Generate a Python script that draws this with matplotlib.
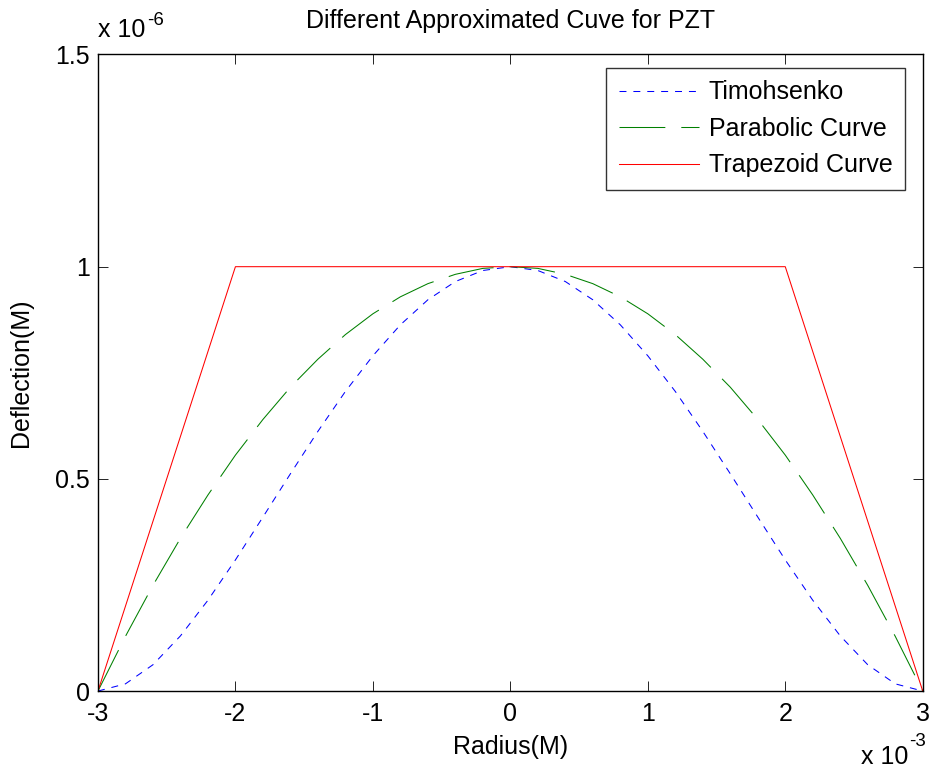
import matplotlib
matplotlib.use("Agg")
import matplotlib.pyplot as plt

plt.rcParams['font.family'] = ['Liberation Sans', 'DejaVu Sans']
plt.rcParams['lines.scale_dashes'] = False

# radius in units of 1e-3 m, deflection in units of 1e-6 m
radius = [-3.0, -2.8, -2.6, -2.4, -2.2, -2.0, -1.8, -1.6, -1.4, -1.2, -1.0,
          -0.8, -0.6, -0.4, -0.2, 0.0, 0.2, 0.4, 0.6, 0.8, 1.0, 1.2, 1.4,
          1.6, 1.8, 2.0, 2.2, 2.4, 2.6, 2.8, 3.0]
timoshenko = [0.0, 0.017, 0.062, 0.130, 0.214, 0.309, 0.410, 0.512, 0.612,
              0.706, 0.790, 0.863, 0.922, 0.965, 0.991, 1.0, 0.991, 0.965,
              0.922, 0.863, 0.790, 0.706, 0.612, 0.512, 0.410, 0.309, 0.214,
              0.130, 0.062, 0.017, 0.0]
parabolic = [0.0, 0.129, 0.249, 0.360, 0.462, 0.556, 0.640, 0.716, 0.782,
             0.840, 0.889, 0.929, 0.960, 0.982, 0.996, 1.0, 0.996, 0.982,
             0.960, 0.929, 0.889, 0.840, 0.782, 0.716, 0.640, 0.556, 0.462,
             0.360, 0.249, 0.129, 0.0]
trapezoid = [0.0, 0.2, 0.4, 0.6, 0.8, 1.0, 1.0, 1.0, 1.0, 1.0, 1.0, 1.0,
             1.0, 1.0, 1.0, 1.0, 1.0, 1.0, 1.0, 1.0, 1.0, 1.0, 1.0, 1.0, 1.0,
             1.0, 0.8, 0.6, 0.4, 0.2, 0.0]

x_ticks = [-3, -2, -1, 0, 1, 2, 3]
y_ticks = [0, 0.5, 1, 1.5]
y_tick_labels = ['0', '0.5', '1', '1.5']

FS = 18

fig = plt.figure(figsize=(9.33, 7.73), dpi=100)
ax = fig.add_axes([0.105, 0.106, 0.884, 0.8235])

ax.plot(radius, timoshenko, color=(0, 0, 1), lw=0.75, dashes=(5, 5),
        label='Timohsenko')
ax.plot(radius, parabolic, color=(0, 0.5, 0), lw=0.75, dashes=(33, 11.5),
        label='Parabolic Curve')
ax.plot(radius, trapezoid, color=(1, 0, 0), lw=0.75, label='Trapezoid Curve')

ax.set_xlim(-3, 3)
ax.set_ylim(0, 1.5)
ax.set_xticks(x_ticks)
ax.set_xticklabels([str(t) for t in x_ticks])
ax.set_yticks(y_ticks)
ax.set_yticklabels(y_tick_labels)
ax.tick_params(direction='in', length=7, width=0.6, labelsize=FS,
               top=True, right=True)
ax.tick_params(axis='x', pad=8)
ax.tick_params(axis='y', pad=6)
for s in ax.spines.values():
    s.set_linewidth(1.0)

ax.set_title('Different Approximated Cuve for PZT', fontsize=FS, pad=19)
ax.set_xlabel('Radius(M)', fontsize=FS, labelpad=6)
ax.set_ylabel('Deflection(M)', fontsize=FS, labelpad=16)

# MATLAB-style exponent labels
ax.text(0.0, 1.020, 'x 10', transform=ax.transAxes, fontsize=FS,
        ha='left', va='bottom')
ax.text(0.060, 1.040, '-6', transform=ax.transAxes, fontsize=FS * 0.75,
        ha='left', va='bottom')
ax.text(0.983, -0.085, 'x 10', transform=ax.transAxes, fontsize=FS,
        ha='right', va='top')
ax.text(0.983, -0.066, '-3', transform=ax.transAxes, fontsize=FS * 0.75,
        ha='left', va='top')

leg = ax.legend(loc='upper left', fontsize=FS, frameon=True, fancybox=False,
                edgecolor='black', handlelength=3.2, handletextpad=0.4,
                borderpad=0.5, labelspacing=0.5, borderaxespad=0,
                bbox_to_anchor=(0.616, 0.979))
leg.get_frame().set_linewidth(1.0)

fig.savefig('out.png', dpi=100)
